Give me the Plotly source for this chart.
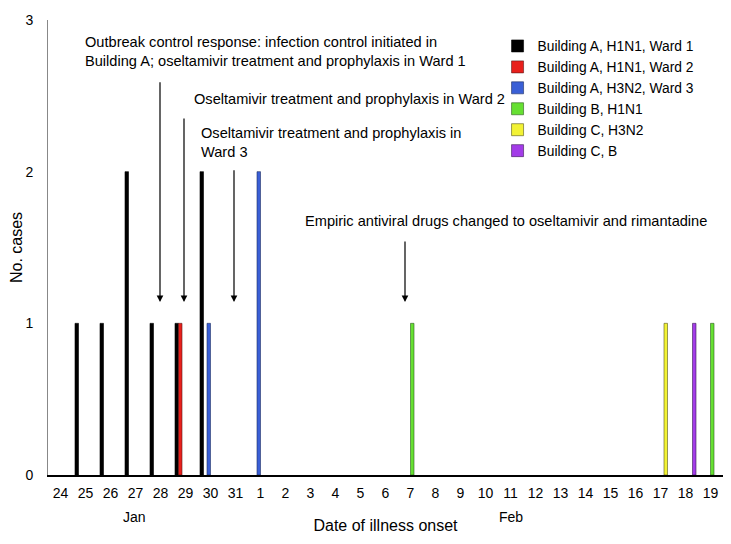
import plotly.graph_objects as go

day_labels = ["24", "25", "26", "27", "28", "29", "30", "31",
              "1", "2", "3", "4", "5", "6", "7", "8", "9", "10",
              "11", "12", "13", "14", "15", "16", "17", "18", "19"]
x_idx = list(range(len(day_labels)))

ward1_a_h1n1 = [0, 1, 1, 2, 1, 1, 2, 0, 0, 0, 0, 0, 0, 0, 0, 0, 0, 0, 0, 0, 0, 0, 0, 0, 0, 0, 0]
ward2_a_h1n1 = [0, 0, 0, 0, 0, 1, 0, 0, 0, 0, 0, 0, 0, 0, 0, 0, 0, 0, 0, 0, 0, 0, 0, 0, 0, 0, 0]
ward3_a_h3n2 = [0, 0, 0, 0, 0, 0, 1, 0, 2, 0, 0, 0, 0, 0, 0, 0, 0, 0, 0, 0, 0, 0, 0, 0, 0, 0, 0]
bldg_b_h1n1 = [0, 0, 0, 0, 0, 0, 0, 0, 0, 0, 0, 0, 0, 0, 1, 0, 0, 0, 0, 0, 0, 0, 0, 0, 0, 0, 1]
bldg_c_h3n2 = [0, 0, 0, 0, 0, 0, 0, 0, 0, 0, 0, 0, 0, 0, 0, 0, 0, 0, 0, 0, 0, 0, 0, 0, 1, 0, 0]
bldg_c_b = [0, 0, 0, 0, 0, 0, 0, 0, 0, 0, 0, 0, 0, 0, 0, 0, 0, 0, 0, 0, 0, 0, 0, 0, 0, 1, 0]

series = [
    ("Building A, H1N1, Ward 1", ward1_a_h1n1, "#000000", "#000000"),
    ("Building A, H1N1, Ward 2", ward2_a_h1n1, "#e8201c", "#5a1a1a"),
    ("Building A, H3N2, Ward 3", ward3_a_h3n2, "#3a5fd6", "#1d2d60"),
    ("Building B, H1N1", bldg_b_h1n1, "#66e032", "#2e5a20"),
    ("Building C, H3N2", bldg_c_h3n2, "#f2f234", "#55551a"),
    ("Building C, B", bldg_c_b, "#a33ce8", "#3a1a55"),
]

FONT = "Liberation Sans, Arial, sans-serif"

fig = go.Figure()
for name, vals, col, edge in series:
    fig.add_trace(go.Bar(
        x=x_idx, y=[v if v else None for v in vals], name=name,
        marker=dict(color=col, line=dict(color=edge, width=0.6)),
    ))

notes = [
    ("Outbreak control response: infection control initiated in<br>Building A; oseltamivir treatment and prophylaxis in Ward 1",
     0.88, 2.79, 3.98, 2.60),
    ("Oseltamivir treatment and prophylaxis in Ward 2",
     5.26, 2.48, 4.94, 2.36),
    ("Oseltamivir treatment and prophylaxis in<br>Ward 3",
     5.54, 2.195, 6.94, 2.02),
    ("Empiric antiviral drugs changed to oseltamivir and rimantadine",
     9.70, 1.675, 13.78, 1.55),
]
for text, tx, ty, ax_x, ay_top in notes:
    fig.add_annotation(x=tx, y=ty, text=text, showarrow=False, xanchor="left",
                       yanchor="middle", align="left",
                       font=dict(family=FONT, size=14.6, color="#000"))
    fig.add_annotation(x=ax_x, y=1.14, ax=ax_x, ay=ay_top, axref="x", ayref="y",
                       text="", showarrow=True, arrowhead=2, arrowsize=1.1,
                       arrowwidth=1.2, arrowcolor="#000")

fig.add_annotation(x=2.95, y=-0.092, xref="x", yref="paper", text="Jan", showarrow=False,
                   yanchor="middle", font=dict(family=FONT, size=14, color="#000"))
fig.add_annotation(x=18.0, y=-0.092, xref="x", yref="paper", text="Feb", showarrow=False,
                   yanchor="middle", font=dict(family=FONT, size=14, color="#000"))

fig.update_layout(
    width=723, height=536,
    margin=dict(l=40, r=8, t=12, b=69),
    plot_bgcolor="white", paper_bgcolor="white",
    barmode="group", bargap=0.16, bargroupgap=0,
    font=dict(family=FONT, size=14, color="#000"),
    legend=dict(x=0.666, y=0.977, xanchor="left", yanchor="top",
                font=dict(family=FONT, size=13.8, color="#000"),
                bgcolor="rgba(0,0,0,0)", tracegroupgap=0, itemwidth=30),
    xaxis=dict(range=[-0.5, 26.5], tickmode="array", tickvals=x_idx,
               ticktext=day_labels, showgrid=False, zeroline=False,
               showline=True, linecolor="#000", linewidth=1.5, ticks="",
               ticklabelstandoff=4, automargin=False,
               tickfont=dict(family=FONT, size=14, color="#000"),
               title=dict(text="Date of illness onset", standoff=20,
                          font=dict(family=FONT, size=16, color="#000"))),
    yaxis=dict(range=[0, 3], tickvals=[0, 1, 2, 3], showgrid=False,
               zeroline=False, showline=True, linecolor="#888", linewidth=1,
               ticks="", ticklabelstandoff=11, automargin=False,
               tickfont=dict(family=FONT, size=14, color="#000"),
               title=dict(text="No. cases", standoff=2,
                          font=dict(family=FONT, size=16, color="#000"))),
)

fig.write_html("out.html")
